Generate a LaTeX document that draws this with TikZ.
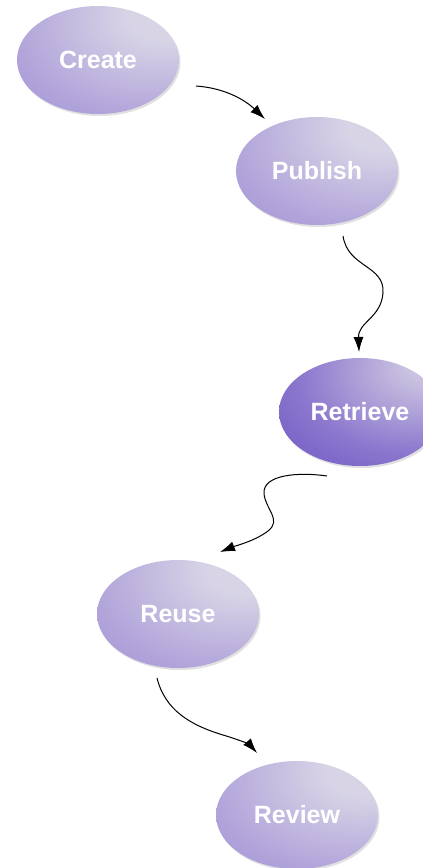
\documentclass[tikz,border=0pt]{standalone}
\usepackage{fontspec}
\setmainfont{Liberation Sans}
\usetikzlibrary{arrows.meta,shapes.geometric}
\definecolor{lightA}{HTML}{D8D4E6}
\definecolor{midA}{HTML}{B4A7DB}
\definecolor{darkA}{HTML}{9482D0}
\definecolor{lightB}{HTML}{CAC2E0}
\definecolor{midB}{HTML}{8C78CE}
\definecolor{darkB}{HTML}{6449BE}
\pgfdeclareradialshading{ellA}{\pgfpoint{24bp}{24bp}}{color(0bp)=(lightA); color(12bp)=(lightA); color(38bp)=(midA); color(64bp)=(darkA); color(100bp)=(darkA)}
\pgfdeclareradialshading{ellB}{\pgfpoint{24bp}{24bp}}{color(0bp)=(lightB); color(8bp)=(lightB); color(34bp)=(midB); color(60bp)=(darkB); color(100bp)=(darkB)}
\tikzset{
  stage/.style={ellipse, minimum width=162pt, minimum height=108pt, inner sep=0pt,
    shading=ellA, text=white, font=\fontsize{25}{28}\selectfont\bfseries,
    preaction={fill=black!12, transform canvas={shift={(1.5pt,-2pt)}}}},
  stagedark/.style={stage, shading=ellB},
  flow/.style={draw=black, line width=1pt, -{Latex[length=15pt,width=10pt]}}
}
\begin{document}
\begin{tikzpicture}[x=1pt,y=-1pt]
\useasboundingbox (0,0) rectangle (423,868);
\begin{scope}
\clip (0,0) rectangle (423,868);
\node[stage] (create) at (98,60) {Create};
\node[stage] (publish) at (317,171) {Publish};
\node[stagedark] (retrieve) at (360,412) {Retrieve};
\node[stage] (reuse) at (178,614) {Reuse};
\node[stage] (review) at (297,815) {Review};
\end{scope}
\coordinate (a1s) at (196,86);
\coordinate (a1e) at (265,119);
\coordinate (a2s) at (343,236);
\coordinate (a2e) at (359,352);
\coordinate (a3s) at (327,476);
\coordinate (a3e) at (220,552);
\coordinate (a4s) at (157,678);
\coordinate (a4e) at (257,753);
\draw[flow] (a1s) .. controls (225,88) and (245,100) .. (a1e);
\draw[flow] (a2s) .. controls (348,268) and (385,265) .. (383,293)
  .. controls (381,318) and (358,322) .. (a2e);
\draw[flow] (a3s) .. controls (300,472) and (262,474) .. (264,494)
  .. controls (266,510) and (282,520) .. (268,531)
  .. controls (255,541) and (235,546) .. (a3e);
\draw[flow] (a4s) .. controls (165,710) and (190,725) .. (223,735)
  .. controls (240,740) and (250,745) .. (a4e);
\end{tikzpicture}
\end{document}
